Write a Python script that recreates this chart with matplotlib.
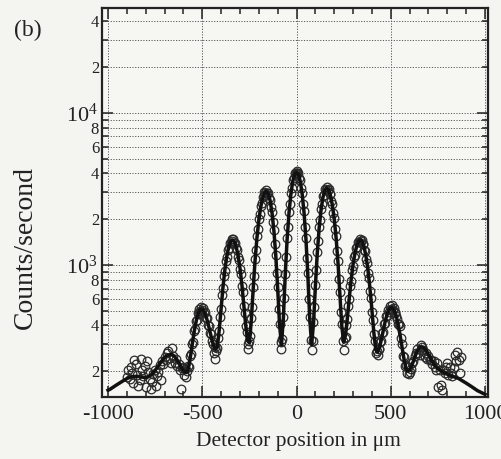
import numpy as np
import matplotlib
matplotlib.use("Agg")
from matplotlib import pyplot as plt
from matplotlib.ticker import FixedLocator, FuncFormatter, MultipleLocator

# fitted curve (solid line), 10 um steps
fit_x = list(range(-1000, 1001, 10))
fit_y = [
    150, 152, 155, 158, 161, 164, 167, 170, 173, 176,   # -1000 .. -910
    179, 181, 183, 184, 185, 185, 185, 184, 183, 182,   # -900 .. -810
    182, 183, 186, 190, 196, 203, 211, 220, 229, 238,   # -800 .. -710
    246, 252, 256, 258, 257, 252, 244, 233, 221, 210,   # -700 .. -610
    202, 197, 198, 220, 263, 320, 383, 441, 486, 510,   # -600 .. -510
    511, 493, 459, 415, 369, 326, 294, 278, 290, 374,   # -500 .. -410
    522, 719, 933, 1139, 1309, 1421, 1460, 1422, 1315, 1151,   # -400 .. -310
    953, 745, 554, 406, 318, 307, 431, 694, 1072, 1511,  # -300 .. -210
    1975, 2402, 2748, 2972, 3050, 2945, 2648, 2200, 1674, 1148,  # -200 .. -110
    700, 403, 298, 444, 855, 1474, 2200, 2926, 3545, 3956,  # -100 .. -10
    4100,                                                 # 0
    3956, 3545, 2926, 2200, 1474, 855, 444, 300, 410, 723,  # 10 .. 100
    1196, 1750, 2304, 2777, 3090, 3200, 3113, 2862, 2478, 2006,  # 110 .. 200
    1504, 1033, 648, 397, 310, 346, 450, 610, 803, 1007,  # 210 .. 300
    1196, 1345, 1437, 1459, 1406, 1285, 1111, 905, 693, 505,  # 310 .. 400
    360, 278, 267, 286, 323, 371, 424, 472, 507, 524,   # 410 .. 500
    520, 495, 454, 400, 342, 287, 241, 210, 200, 204,   # 510 .. 600
    216, 233, 253, 271, 284, 290, 288, 281, 270, 257,   # 610 .. 700
    244, 232, 222, 214, 208, 204, 200, 197, 194, 191,   # 710 .. 800
    189, 187, 185, 183, 181, 179, 176, 173, 170, 167,   # 810 .. 900
    164, 161, 158, 155, 152, 149, 147, 145, 143, 141,   # 910 .. 1000
]

# measured points (open circles)
left_x = [-900, -893, -886, -880, -873, -866, -860, -853, -846, -840,
          -833, -826, -820, -813, -806, -800, -793, -786, -780, -773,
          -766, -760, -753, -746, -740, -733, -726, -720, -713, -706,
          -700, -693, -686, -680, -673, -666, -660, -653, -646, -640,
          -633, -626, -620, -613, -606]
left_y = [182, 205, 178, 212, 196, 168, 238, 222, 190, 160,
          176, 240, 205, 186, 215, 158, 232, 198, 178, 152,
          170, 192, 205, 160, 185, 198, 220, 176, 232, 222,
          247, 236, 262, 270, 246, 226, 284, 250, 228, 240,
          215, 222, 205, 152, 210]

mid_x = list(range(-600, 601, 5))
mid_y = [
    214, 190, 206, 183, 200, 216, 212, 250, 258, 300,        # -600 .. -555
    312, 366, 378, 428, 432, 480, 474, 515, 498, 528,        # -550 .. -505
    505, 520, 482, 490, 450, 446, 404, 398, 356, 352,        # -500 .. -455
    318, 300, 262, 290, 240, 272, 285, 330, 366, 452,        # -450 .. -405
    510, 630, 705, 842, 915, 1060, 1120, 1255, 1290, 1400,   # -400 .. -355
    1405, 1475, 1440, 1480, 1400, 1395, 1290, 1262, 1130, 1080,  # -350 .. -305
    935, 866, 730, 660, 540, 484, 396, 362, 300, 282,        # -300 .. -255
    316, 340, 445, 532, 712, 850, 1095, 1255, 1540, 1712,    # -250 .. -205
    2010, 2160, 2440, 2550, 2790, 2830, 3010, 2980, 3090, 2990,  # -200 .. -155
    2990, 2770, 2690, 2400, 2240, 1910, 1705, 1380, 1170, 890,   # -150 .. -105
    715, 516, 412, 310, 278, 328, 455, 604, 875, 1120,       # -100 .. -55
    1505, 1790, 2245, 2525, 2980, 3200, 3610, 3720, 4020, 4000,  # -50 .. -5
    4150,                                                    # 0
    4010, 4030, 3720, 3600, 3190, 2975, 2520, 2250, 1785, 1500,  # 5 .. 50
    1115, 880, 600, 458, 322, 276, 318, 424, 528, 742,       # 55 .. 100
    920, 1225, 1430, 1790, 1990, 2350, 2505, 2830, 2900, 3150,   # 105 .. 150
    3110, 3260, 3120, 3170, 2950, 2920, 2630, 2530, 2200, 2050,  # 155 .. 200
    1715, 1540, 1230, 1060, 805, 665, 490, 408, 318, 276,    # 205 .. 250
    330, 335, 402, 438, 540, 594, 722, 785, 925, 985,        # 255 .. 300
    1130, 1170, 1300, 1318, 1425, 1410, 1490, 1430, 1470, 1380,  # 305 .. 350
    1380, 1260, 1228, 1088, 1035, 885, 815, 678, 610, 492,   # 355 .. 400
    436, 350, 318, 262, 270, 255, 282, 278, 312, 316,        # 405 .. 450
    356, 362, 408, 414, 462, 460, 505, 494, 540, 512,        # 455 .. 500
    545, 506, 525, 482, 490, 465, 440, 412, 408, 395,        # 505 .. 550
    330, 300, 252, 248, 215, 220, 196, 212, 192, 198,        # 555 .. 600
]

right_x = [605, 612, 619, 626, 633, 640, 647, 653, 658, 665,
           672, 679, 686, 693, 700, 706, 713, 720, 727, 733,
           740, 747, 753, 760, 767, 774, 780, 787, 793, 800,
           806, 813, 820, 826, 833, 840, 846, 853, 860, 866, 873]
right_y = [208, 225, 232, 250, 262, 280, 262, 256, 298, 290,
           275, 249, 262, 240, 252, 236, 237, 222, 232, 214,
           205, 227, 158, 205, 162, 151, 204, 196, 214, 227,
           190, 214, 195, 185, 210, 256, 235, 268, 237, 195, 248]

x_ticks = [-1000, -500, 0, 500, 1000]
y_major = [1e3, 1e4]

data_x = left_x + mid_x + right_x
data_y = left_y + mid_y + right_y

plt.rcParams['font.family'] = ['Liberation Serif', 'DejaVu Serif']
plt.rcParams['mathtext.fontset'] = 'custom'
plt.rcParams['mathtext.rm'] = 'Liberation Serif'

fig = plt.figure(figsize=(5.02, 4.59), dpi=100, facecolor='#f4f5f1')
ax = fig.add_axes([0.2032, 0.1351, 0.769, 0.8475])
ax.set_facecolor('#f6f7f3')

ax.plot(data_x, data_y, ls='none', marker='o', ms=6.2, mfc='none',
        mec='#2a2a2a', mew=0.9, zorder=3)
ax.plot(fit_x, fit_y, color='#111111', lw=2.5, zorder=4)

ax.set_yscale('log')
ax.set_xlim(-1032, 1016)
ax.set_ylim(135.4, 49000)

ax.xaxis.set_major_locator(FixedLocator(x_ticks))
ax.xaxis.set_minor_locator(MultipleLocator(100))
ax.set_xticklabels([str(v) for v in x_ticks])

ax.yaxis.set_major_locator(FixedLocator(y_major))
minor_locs = [m * 10 ** e for e in (2, 3, 4) for m in range(2, 10)]
ax.yaxis.set_minor_locator(FixedLocator(minor_locs))


def major_fmt(v, pos):
    return r'$\mathregular{10^{%d}}$' % round(np.log10(v))


def minor_fmt(v, pos):
    m = int(round(v / 10 ** np.floor(np.log10(v) + 1e-9)))
    return str(m) if m in (2, 4, 6, 8) else ''


ax.yaxis.set_major_formatter(FuncFormatter(major_fmt))
ax.yaxis.set_minor_formatter(FuncFormatter(minor_fmt))

ax.tick_params(which='both', direction='in', top=True, right=True, width=1.1,
               colors='#222222')
ax.tick_params(which='major', length=8, labelsize=16, pad=6)
ax.tick_params(which='minor', length=4.5)
ax.tick_params(axis='y', which='minor', labelsize=12, pad=2)
ax.tick_params(axis='y', which='major', labelsize=16, pad=3)

ax.grid(True, axis='y', which='both', ls=(0, (1.2, 1.6)), color='#555555', lw=0.7)
ax.grid(True, axis='x', which='major', ls=(0, (1.2, 1.6)), color='#555555', lw=0.7)
ax.set_axisbelow(True)

for s in ax.spines.values():
    s.set_linewidth(1.6)
    s.set_color('#222222')

ax.set_xlabel('Detector position in μm', fontsize=15.5, color='#222222')
ax.xaxis.set_label_coords(0.508, -0.09)
ax.set_ylabel('Counts/second', fontsize=20, color='#222222')
ax.yaxis.set_label_coords(-0.167, 0.385)
fig.text(0.028, 0.922, '(b)', fontsize=17, color='#222222')

fig.savefig('out.png', dpi=100, facecolor=fig.get_facecolor())
